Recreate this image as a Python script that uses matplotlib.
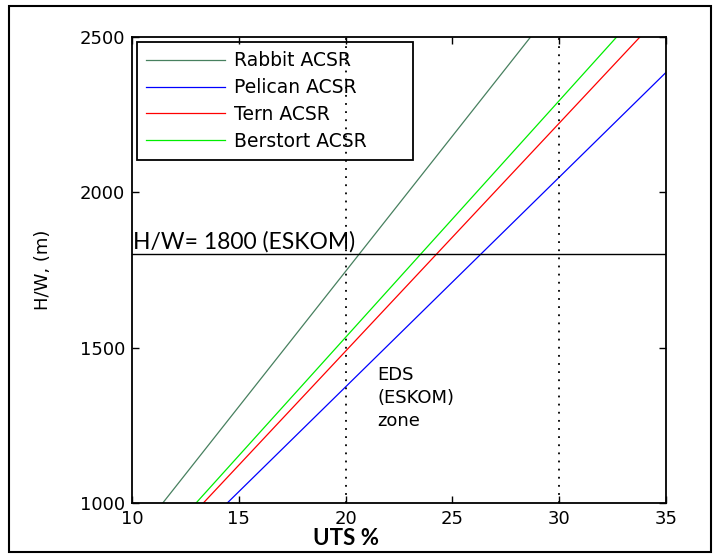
import matplotlib
matplotlib.use("Agg")
import matplotlib.pyplot as plt
from matplotlib.patches import Rectangle

# conductor lines: UTS (%) at the two ends of each curve and the H/W values there
rabbit_uts = [11.44, 28.66]
rabbit_hw = [1000, 2500]
pelican_uts = [14.46, 35.0]
pelican_hw = [1000, 2386]
tern_uts = [13.34, 33.78]
tern_hw = [1000, 2500]
berstort_uts = [13.0, 32.69]
berstort_hw = [1000, 2500]

eds_limits = [20, 30]
eskom_hw = 1800

x_ticks = [10, 15, 20, 25, 30, 35]
y_ticks = [1000, 1500, 2000, 2500]

plt.rcParams["font.family"] = ["DejaVu Sans"]

fig = plt.figure(figsize=(7.14, 5.56), dpi=100)
ax = fig.add_axes([132 / 714, 1 - 503 / 556, 534 / 714, 466 / 556])

ax.plot(rabbit_uts, rabbit_hw, color="#47805f", lw=0.9, label="Rabbit ACSR")
ax.plot(pelican_uts, pelican_hw, color="#0000ff", lw=0.9, label="Pelican ACSR")
ax.plot(tern_uts, tern_hw, color="#ff0000", lw=0.9, label="Tern ACSR")
ax.plot(berstort_uts, berstort_hw, color="#00ee00", lw=0.9, label="Berstort ACSR")

for x in eds_limits:
    ax.axvline(x, color="black", lw=1.3, ls=(0, (1, 3.5)))
ax.axhline(eskom_hw, color="black", lw=1.0)

ax.set_xlim(10, 35)
ax.set_ylim(1000, 2500)
ax.set_xticks(x_ticks)
ax.set_yticks(y_ticks)
ax.tick_params(direction="in", top=True, right=True, length=5, width=1,
               labelsize=13, pad=5)
for s in ax.spines.values():
    s.set_linewidth(1.3)

ax.set_ylabel("H/W, (m)", fontsize=13)
ax.yaxis.set_label_coords(-0.15, 0.5)

# legend box stretched over the left half; the frame is see-through
leg = ax.legend(loc="upper left", bbox_to_anchor=(0.0094, 0.7, 0.517, 0.2895),
                mode="expand", fontsize=13.5, handlelength=4.2,
                labelspacing=0.42, borderpad=0.5, handletextpad=0.45,
                borderaxespad=0, fancybox=False)
frame = leg.get_frame()
frame.set_alpha(None)
frame.set_facecolor("none")
frame.set_edgecolor("black")
frame.set_linewidth(1.3)

ax.text(21.5, 1440, "EDS\n(ESKOM)\nzone", fontsize=13, va="top", ha="left",
        linespacing=1.35)
ax.annotate("H/W= 1800 (ESKOM)", xy=(10, eskom_hw), xytext=(1, 1),
            textcoords="offset points", fontsize=16.5, family="Lato",
            va="bottom", ha="left")

fig.text(346 / 714, 1 - 528 / 556, "UTS %", fontsize=16, family="Lato",
         fontweight="bold", ha="center", va="top")

fig.patches.append(Rectangle((9 / 714, 1 - 552 / 556), 702 / 714, 546 / 556,
                             transform=fig.transFigure, fill=False,
                             edgecolor="black", lw=1.5))

fig.savefig("out.png", dpi=100)
